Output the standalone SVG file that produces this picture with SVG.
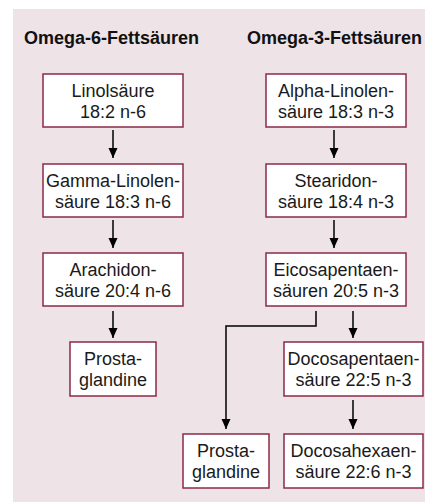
<svg xmlns="http://www.w3.org/2000/svg" width="425" height="502" viewBox="0 0 425 502">
<style>
.bg{fill:#eee3e7}
.box{fill:#ffffff;stroke:#8c2a46;stroke-width:1.5}
.t{font-family:"Liberation Sans",Arial,sans-serif;font-size:18px;fill:#1a1a1a;text-anchor:middle}
.h{font-family:"Liberation Sans",Arial,sans-serif;font-size:18px;font-weight:bold;fill:#111111}
.c{fill:none;stroke:#000000;stroke-width:1.5}
</style>
<defs>
<marker id="ah" markerUnits="userSpaceOnUse" markerWidth="10" markerHeight="10" refX="10" refY="5" orient="auto">
<path d="M0,0.5 L10,5 L0,9.5 z" fill="#000000"/>
</marker>
</defs>
<rect class="bg" x="13" y="9" width="412" height="493"/>
<text class="h" x="24" y="44">Omega-6-Fettsäuren</text>
<text class="h" x="247" y="44">Omega-3-Fettsäuren</text>

<g id="connectors">
<path class="c" d="M113,130 V158" marker-end="url(#ah)"/>
<path class="c" d="M113,220 V248" marker-end="url(#ah)"/>
<path class="c" d="M113,311 V338" marker-end="url(#ah)"/>
<path class="c" d="M334,130 V158" marker-end="url(#ah)"/>
<path class="c" d="M334,220 V248" marker-end="url(#ah)"/>
<path class="c" d="M353,311 V338" marker-end="url(#ah)"/>
<path class="c" d="M316,311 V326 H226 V429" marker-end="url(#ah)"/>
<path class="c" d="M353,400 V429" marker-end="url(#ah)"/>
</g>

<g id="n6-linol">
<rect class="box" x="43" y="74" width="140" height="53"/>
<text class="t" x="113" y="97">Linolsäure</text>
<text class="t" x="113" y="118">18:2 n-6</text>
</g>
<g id="n6-gamma">
<rect class="box" x="43" y="164" width="140" height="53"/>
<text class="t" x="113" y="187">Gamma-Linolen-</text>
<text class="t" x="113" y="208">säure 18:3 n-6</text>
</g>
<g id="n6-arachidon">
<rect class="box" x="43" y="253" width="140" height="53"/>
<text class="t" x="113" y="276">Arachidon-</text>
<text class="t" x="113" y="297">säure 20:4 n-6</text>
</g>
<g id="n6-prosta">
<rect class="box" x="70" y="342" width="86" height="54"/>
<text class="t" x="113" y="365">Prosta-</text>
<text class="t" x="113" y="386">glandine</text>
</g>

<g id="n3-alpha">
<rect class="box" x="266" y="74" width="140" height="53"/>
<text class="t" x="336" y="97">Alpha-Linolen-</text>
<text class="t" x="336" y="118">säure 18:3 n-3</text>
</g>
<g id="n3-stearidon">
<rect class="box" x="266" y="164" width="140" height="53"/>
<text class="t" x="336" y="187">Stearidon-</text>
<text class="t" x="336" y="208">säure 18:4 n-3</text>
</g>
<g id="n3-eicosa">
<rect class="box" x="266" y="253" width="140" height="53"/>
<text class="t" x="336" y="276">Eicosapentaen-</text>
<text class="t" x="336" y="297">säuren 20:5 n-3</text>
</g>
<g id="n3-docosapentaen">
<rect class="box" x="284" y="342" width="139" height="54"/>
<text class="t" x="353.5" y="365">Docosapentaen-</text>
<text class="t" x="353.5" y="386">säure 22:5 n-3</text>
</g>
<g id="n3-prosta">
<rect class="box" x="183" y="434" width="86" height="54"/>
<text class="t" x="226" y="457">Prosta-</text>
<text class="t" x="226" y="478">glandine</text>
</g>
<g id="n3-docosahexaen">
<rect class="box" x="284" y="434" width="139" height="54"/>
<text class="t" x="353.5" y="457">Docosahexaen-</text>
<text class="t" x="353.5" y="478">säure 22:6 n-3</text>
</g>
</svg>
